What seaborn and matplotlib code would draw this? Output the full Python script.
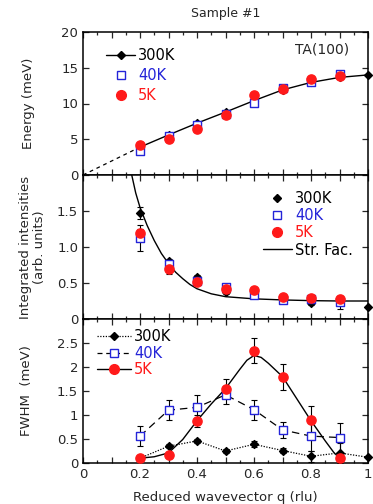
import numpy as np
import pandas as pd
import matplotlib
matplotlib.use("Agg")
import matplotlib.pyplot as plt
from matplotlib.ticker import MultipleLocator, FuncFormatter
from matplotlib.lines import Line2D
import seaborn as sns

# ---------------- data ----------------
q_300 = [0.2, 0.3, 0.4, 0.5, 0.6, 0.7, 0.8, 0.9, 1.0]
q_low = [0.2, 0.3, 0.4, 0.5, 0.6, 0.7, 0.8, 0.9]

# Energy (meV)
E_300 = [3.9, 5.6, 7.25, 8.8, 10.4, 11.9, 12.95, 13.65, 14.0]
E_40 = [3.4, 5.4, 7.0, 8.6, 10.1, 12.1, 13.0, 14.1]
E_5 = [4.2, 5.0, 6.5, 8.4, 11.2, 12.0, 13.4, 13.8]
E_dash_q = [0.0, 0.2]
E_dash = [0.0, 3.9]

# Integrated intensities (arb. units)
I_300 = [1.47, 0.81, 0.58, 0.37, 0.36, 0.29, 0.22, 0.26, 0.165]
I_300_err = [0.08, 0.03, 0.03, 0.02, 0.02, 0.02, 0.02, 0.02, 0.0]
I_40 = [1.12, 0.76, 0.53, 0.44, 0.33, 0.27, 0.28, 0.23]
I_40_err = [0.18, 0.04, 0.03, 0.03, 0.03, 0.02, 0.02, 0.09]
I_5 = [1.20, 0.70, 0.51, 0.41, 0.40, 0.31, 0.29, 0.28]
I_5_err = [0.05, 0.08, 0.03, 0.03, 0.03, 0.02, 0.02, 0.04]
sf_q = [0.171, 0.185, 0.2, 0.225, 0.25, 0.275, 0.3, 0.325, 0.35, 0.375,
        0.4, 0.45, 0.5, 0.6, 0.7, 0.8, 0.9, 1.0]
sf_val = [2.0, 1.75, 1.55, 1.30, 1.09, 0.91, 0.77, 0.65, 0.56, 0.48,
          0.42, 0.35, 0.31, 0.28, 0.265, 0.255, 0.25, 0.25]

# FWHM (meV)
W_300 = [0.10, 0.35, 0.46, 0.25, 0.39, 0.26, 0.14, 0.21, 0.12]
W_300_err = [0.03, 0.04, 0.05, 0.05, 0.06, 0.06, 0.12, 0.2, 0.0]
W_40 = [0.56, 1.10, 1.16, 1.42, 1.11, 0.69, 0.56, 0.53]
W_40_err = [0.21, 0.21, 0.25, 0.19, 0.21, 0.17, 0.3, 0.3]
W_5 = [0.105, 0.16, 0.87, 1.55, 2.34, 1.80, 0.89, 0.105]
W_5_err = [0.0, 0.0, 0.12, 0.2, 0.26, 0.27, 0.3, 0.0]
fit5_q = [0.2, 0.25, 0.3, 0.35, 0.4, 0.45, 0.5, 0.55, 0.575, 0.6, 0.625,
          0.65, 0.7, 0.75, 0.8, 0.85, 0.88, 0.9]
fit5_val = [0.10, 0.13, 0.21, 0.49, 0.88, 1.23, 1.55, 1.95, 2.14, 2.24, 2.20,
            2.08, 1.80, 1.34, 0.88, 0.46, 0.22, 0.10]

x_ticklabels = ["0", "0.2", "0.4", "0.6", "0.8", "1"]

# ---------------- style ----------------
sns.set_style("ticks")
plt.rcParams["font.family"] = ["DejaVu Sans"]
plt.rcParams["axes.linewidth"] = 1.1

BLACK = "black"
BLUE = "#2424d8"
RED = "#ff1a1a"

fig = plt.figure(figsize=(3.73, 5.04), dpi=100)
L, W = 83 / 373, 285 / 373
ax1 = fig.add_axes([L, (504 - 175) / 504, W, 143 / 504])
ax2 = fig.add_axes([L, (504 - 319) / 504, W, 144 / 504])
ax3 = fig.add_axes([L, (504 - 463) / 504, W, 144 / 504])


def style_axis(ax):
    ax.set_xlim(0, 1)
    ax.xaxis.set_major_locator(MultipleLocator(0.1))
    ax.xaxis.set_minor_locator(MultipleLocator(0.05))
    ax.tick_params(which="both", direction="in", top=True, right=True,
                   labelsize=9.5, width=0.9)
    ax.tick_params(which="major", length=4)
    ax.tick_params(which="minor", length=2.5)
    for s in ax.spines.values():
        s.set_color("black")


def mk(ax, q, v, marker, color, face, size, z):
    d = pd.DataFrame({"q": q, "v": v})
    sns.scatterplot(data=d, x="q", y="v", ax=ax, marker=marker, s=size,
                    color=face, edgecolor=color, linewidth=1.0, zorder=z,
                    clip_on=False, legend=False)


# ---------- top: energy ----------
sns.lineplot(x=q_300, y=E_300, ax=ax1, color=BLACK, lw=1.0, zorder=2)
sns.lineplot(x=E_dash_q, y=E_dash, ax=ax1, color=BLACK, lw=0.9,
             linestyle=(0, (3, 3)), zorder=2)
mk(ax1, q_300, E_300, "D", BLACK, BLACK, 16, 3)
mk(ax1, q_low, E_40, "s", BLUE, "white", 34, 4)
mk(ax1, q_low, E_5, "o", RED, RED, 44, 5)
style_axis(ax1)
ax1.set_ylim(0, 20)
ax1.yaxis.set_major_locator(MultipleLocator(5))
ax1.yaxis.set_minor_locator(MultipleLocator(5))
ax1.tick_params(labelbottom=False)
ax1.set_xlabel("")
ax1.set_ylabel("Energy (meV)", fontsize=9.5)
ax1.yaxis.set_label_coords(-0.168, 0.5)
ax1.text(0.84, 17.5, "TA(100)", fontsize=10, ha="center", va="center")

h1 = [Line2D([], [], color=BLACK, lw=1.0, marker="D", markersize=4),
      Line2D([], [], color=BLUE, lw=0, marker="s", markersize=6,
             markerfacecolor="white", markeredgecolor=BLUE),
      Line2D([], [], color=RED, lw=0, marker="o", markersize=7)]
lg = ax1.legend(h1, ["300K", "40K", "5K"], loc="upper left",
                bbox_to_anchor=(0.05, 0.95), frameon=False, fontsize=10.5,
                handlelength=2.0, handletextpad=0.2, labelspacing=0.35,
                borderpad=0.1)
for t, c in zip(lg.get_texts(), [BLACK, BLUE, RED]):
    t.set_color(c)

# ---------- middle: intensities ----------
sns.lineplot(x=sf_q, y=sf_val, ax=ax2, color=BLACK, lw=1.0, zorder=2)
ax2.errorbar(q_300, I_300, yerr=I_300_err, fmt="none", ecolor=BLACK,
             elinewidth=0.8, capsize=2, capthick=0.8, zorder=2.5)
ax2.errorbar(q_low, I_40, yerr=I_40_err, fmt="none", ecolor=BLACK,
             elinewidth=0.8, capsize=2, capthick=0.8, zorder=2.5)
ax2.errorbar(q_low, I_5, yerr=I_5_err, fmt="none", ecolor=BLACK,
             elinewidth=0.8, capsize=2, capthick=0.8, zorder=2.5)
mk(ax2, q_300, I_300, "D", BLACK, BLACK, 16, 3)
mk(ax2, q_low, I_40, "s", BLUE, "white", 34, 4)
mk(ax2, q_low, I_5, "o", RED, RED, 44, 5)
style_axis(ax2)
ax2.set_ylim(0, 2.0)
ax2.set_yticks([0, 0.5, 1.0, 1.5, 2.0])
ax2.set_yticklabels(["0", "0.5", "1.0", "1.5", ""])
ax2.tick_params(labelbottom=False)
ax2.set_xlabel("")
ax2.set_ylabel("Integrated intensities\n(arb. units)", fontsize=9.5,
               linespacing=1.1)
ax2.yaxis.set_label_coords(-0.13, 0.5)

h2 = [Line2D([], [], color=BLACK, lw=0, marker="D", markersize=4),
      Line2D([], [], color=BLUE, lw=0, marker="s", markersize=6,
             markerfacecolor="white", markeredgecolor=BLUE),
      Line2D([], [], color=RED, lw=0, marker="o", markersize=7),
      Line2D([], [], color=BLACK, lw=1.0)]
lg2 = ax2.legend(h2, ["300K", "40K", "5K", "Str. Fac."], loc="upper left",
                 bbox_to_anchor=(0.6, 0.95), frameon=False, fontsize=10.5,
                 handlelength=2.0, handletextpad=0.2, labelspacing=0.15,
                 borderpad=0.1)
for t, c in zip(lg2.get_texts(), [BLACK, BLUE, RED, BLACK]):
    t.set_color(c)

# ---------- bottom: FWHM ----------
sns.lineplot(x=q_300, y=W_300, ax=ax3, color=BLACK, lw=0.9,
             linestyle=(0, (1, 1.2)), zorder=2)
sns.lineplot(x=q_low, y=W_40, ax=ax3, color=BLACK, lw=0.9,
             linestyle=(0, (6, 4)), zorder=2)
sns.lineplot(x=fit5_q, y=fit5_val, ax=ax3, color=BLACK, lw=1.0, zorder=2)
ax3.errorbar(q_300, W_300, yerr=W_300_err, fmt="none", ecolor=BLACK,
             elinewidth=0.8, capsize=2, capthick=0.8, zorder=2.5)
ax3.errorbar(q_low, W_40, yerr=W_40_err, fmt="none", ecolor=BLACK,
             elinewidth=0.8, capsize=2, capthick=0.8, zorder=2.5)
ax3.errorbar(q_low, W_5, yerr=W_5_err, fmt="none", ecolor=BLACK,
             elinewidth=0.8, capsize=2, capthick=0.8, zorder=2.5)
mk(ax3, q_300, W_300, "D", BLACK, BLACK, 16, 3)
mk(ax3, q_low, W_40, "s", BLUE, "white", 34, 4)
mk(ax3, q_low, W_5, "o", RED, RED, 44, 5)
style_axis(ax3)
ax3.set_ylim(0, 3.0)
ax3.set_yticks([0, 0.5, 1, 1.5, 2, 2.5, 3])
ax3.set_yticklabels(["0", "0.5", "1", "1.5", "2", "2.5", ""])
ax3.xaxis.set_major_formatter(FuncFormatter(
    lambda v, p: x_ticklabels[int(round(v * 5))]
    if abs(v * 5 - round(v * 5)) < 1e-6 else ""))
ax3.set_ylabel("FWHM  (meV)", fontsize=9.5)
ax3.yaxis.set_label_coords(-0.175, 0.5)
ax3.set_xlabel("Reduced wavevector q (rlu)", fontsize=9.5, labelpad=7)

h3 = [Line2D([], [], color=BLACK, lw=0.9, linestyle=(0, (1, 1.2)),
             marker="D", markersize=4),
      Line2D([], [], color=BLACK, lw=0.9, linestyle=(0, (4, 3)),
             marker="s", markersize=6, markerfacecolor="white",
             markeredgecolor=BLUE),
      Line2D([], [], color=BLACK, lw=1.0, marker="o", markersize=7,
             markerfacecolor=RED, markeredgecolor=RED)]
lg3 = ax3.legend(h3, ["300K", "40K", "5K"], loc="upper left",
                 bbox_to_anchor=(0.02, 0.99), frameon=False, fontsize=10.5,
                 handlelength=2.3, handletextpad=0.2, labelspacing=0.1,
                 borderpad=0.1)
for t, c in zip(lg3.get_texts(), [BLACK, BLUE, RED]):
    t.set_color(c)

fig.text((83 + 368) / 2 / 373, 1 - 14 / 504, "Sample #1", fontsize=9,
         ha="center", va="center")

fig.savefig("out.png", dpi=100)
